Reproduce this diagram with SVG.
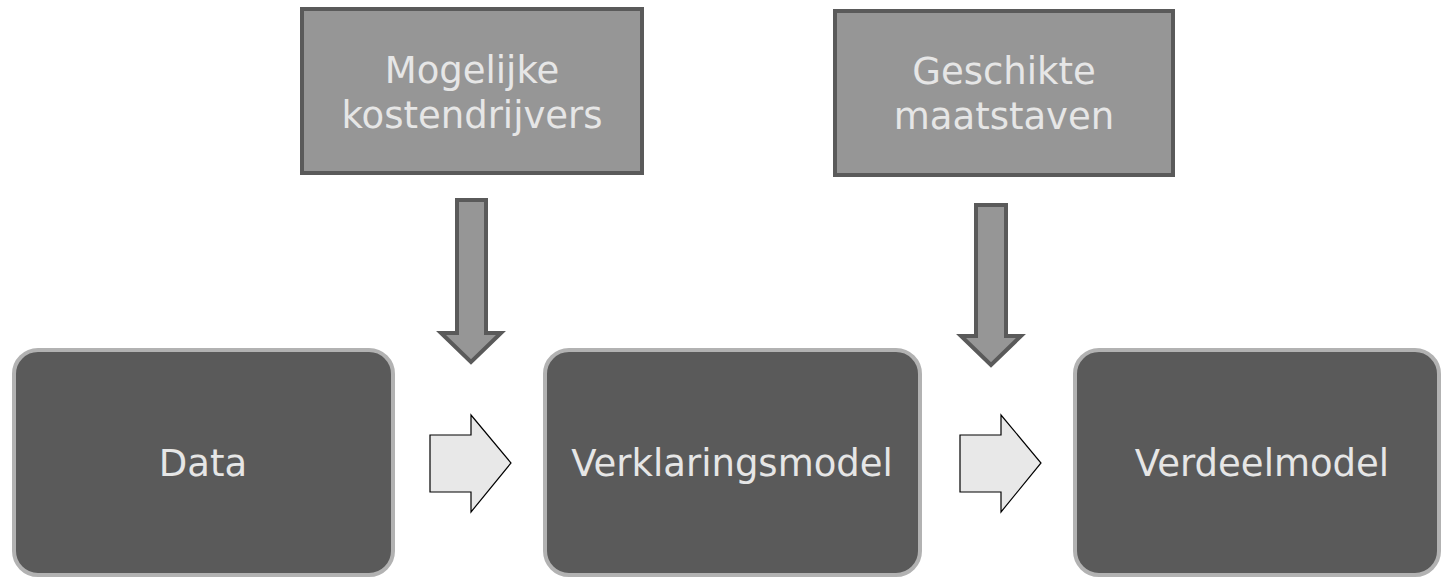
<svg xmlns="http://www.w3.org/2000/svg" width="1442" height="577" viewBox="0 0 1442 577">
<style>
.top{fill:#969696;stroke:#5a5a5a;stroke-width:4}
.bot{fill:#5a5a5a;stroke:#b2b2b2;stroke-width:4}
.down{fill:#969696;stroke:#5a5a5a;stroke-width:4;stroke-linejoin:miter}
.right{fill:#e8e8e8;stroke:#000;stroke-width:1.2}
text{font-family:"DejaVu Sans",Verdana,sans-serif;font-size:37px;fill:#e6e6e6;text-anchor:middle}
</style>
<rect width="1442" height="577" fill="#fff"/>
<g id="mogelijke">
<rect class="top" x="302" y="9" width="340" height="164"/>
<text x="472" y="83">Mogelijke</text>
<text x="472" y="128">kostendrijvers</text>
</g>
<g id="geschikte">
<rect class="top" x="835" y="11" width="338" height="164"/>
<text x="1004" y="84">Geschikte</text>
<text x="1004" y="129">maatstaven</text>
</g>
<g id="data">
<rect class="bot" x="14" y="350" width="379" height="225" rx="24"/>
<text x="203" y="476">Data</text>
</g>
<g id="verklaringsmodel">
<rect class="bot" x="545" y="350" width="375" height="225" rx="24"/>
<text x="732" y="476">Verklaringsmodel</text>
</g>
<g id="verdeelmodel">
<rect class="bot" x="1075" y="350" width="364" height="225" rx="24"/>
<text x="1262" y="476">Verdeelmodel</text>
</g>
<g id="connectors">
<polygon class="down" points="457,200 486,200 486,333 501,333 471,362 441,333 457,333"/>
<polygon class="down" points="976,205 1006,205 1006,336 1021,336 991,365 961,336 976,336"/>
<polygon class="right" points="430,435 471,435 471,415 511,463 471,512 471,492 430,492"/>
<polygon class="right" points="960,435 1001,435 1001,415 1041,463 1001,512 1001,492 960,492"/>
</g>
</svg>
